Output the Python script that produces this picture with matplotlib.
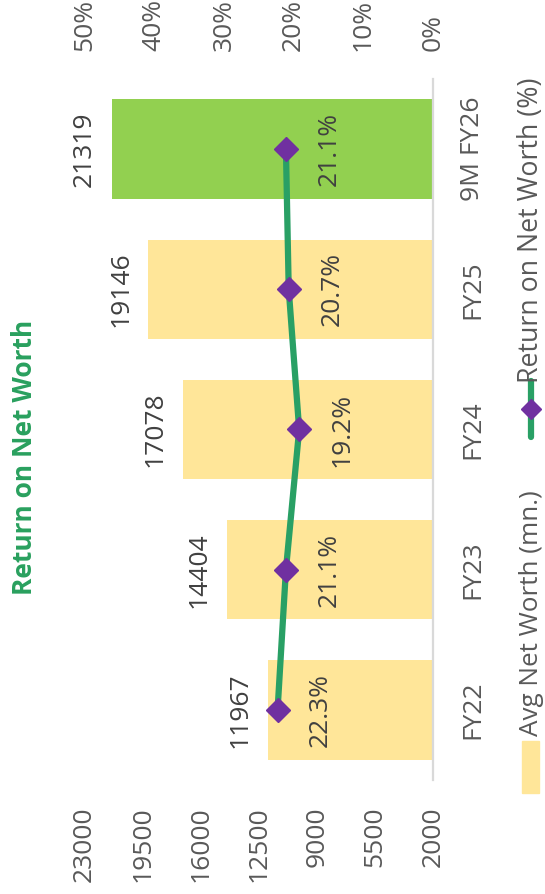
import matplotlib
matplotlib.use("Agg")
import matplotlib.pyplot as plt
from matplotlib.patches import Rectangle
from matplotlib.lines import Line2D

plt.rcParams['font.family'] = ['Open Sans', 'DejaVu Sans']

# chart data (the original is a column + line chart turned 90 degrees)
periods = ["FY22", "FY23", "FY24", "FY25", "9M FY26"]
avg_net_worth = [11967, 14404, 17078, 19146, 21319]
ronw_pct = [22.3, 21.1, 19.2, 20.7, 21.1]
bar_colors = ["#FFE699", "#FFE699", "#FFE699", "#FFE699", "#92D050"]
worth_ticks = [2000, 5500, 9000, 12500, 16000, 19500, 23000]
pct_ticks = [0, 10, 20, 30, 40, 50]

W, H = 545, 894
fig = plt.figure(figsize=(W / 100, H / 100), dpi=100)

# plot area in pixels: x 84.5..433, y 79..780 (from top)
ax = fig.add_axes([84.5 / W, (H - 780) / H, (433 - 84.5) / W, (780 - 79) / H])
ax2 = ax.twiny()

ypos = list(range(len(periods)))

ax.barh(ypos, avg_net_worth, height=0.71, color=bar_colors, zorder=2)
ax.set_xlim(23000, 2000)
ax.set_ylim(-0.5, len(periods) - 0.5)
ax.set_xticks(worth_ticks)
ax.set_xticklabels([str(t) for t in worth_ticks], rotation=90, va="top")
ax.tick_params(axis="x", length=0, pad=19, labelsize=19, labelcolor="#595959")

ax.yaxis.tick_right()
ax.set_yticks(ypos)
ax.set_yticklabels(periods, rotation=90, va="center", ha="left")
ax.tick_params(axis="y", length=0, pad=19.5, labelsize=19, labelcolor="#595959")

for s in ["top", "left", "bottom"]:
    ax.spines[s].set_visible(False)
ax.spines["right"].set_color("#D9D9D9")
ax.spines["right"].set_linewidth(1.6)

for y, v in zip(ypos, avg_net_worth):
    ax.annotate(str(v), xy=(v, y), xytext=(-20, 0), textcoords="offset points",
                rotation=90, ha="center", va="center", fontsize=19, color="#404040")

# return on net worth line on the secondary axis
ax2.plot(ronw_pct, ypos, color="#29A065", lw=4.5, marker="D", ms=12,
         mfc="#7030A0", mec="#7030A0", zorder=3)
ax2.set_xlim(50, 0)
ax2.set_xticks(pct_ticks)
ax2.set_xticklabels([f"{t}%" for t in pct_ticks], rotation=90, va="bottom")
ax2.tick_params(axis="x", length=0, pad=20, labelsize=19, labelcolor="#595959")
for s in ax2.spines.values():
    s.set_visible(False)

for y, p in zip(ypos, ronw_pct):
    ax2.annotate(f"{p}%", xy=(p, y), xytext=(31, 0), textcoords="offset points",
                 rotation=90, ha="center", va="center", fontsize=19, color="#404040")

# title
fig.text(25 / W, 1 - 457.5 / H, "Return on Net Worth", rotation=90, ha="center",
         va="center", fontsize=19, fontweight="bold", color="#29A05E")

# legend built by hand because it is turned as well
fig.patches.append(Rectangle((522 / W, 1 - 793 / H), 17 / W, 52 / H,
                             transform=fig.transFigure, color="#FFE699"))
leg1 = fig.text(531 / W, 1 - 736 / H, "Avg Net Worth (mn.)", rotation=90, ha="center",
                va="bottom", fontsize=19, color="#595959")
fig.lines.append(Line2D([531 / W, 531 / W], [1 - 437 / H, 1 - 381 / H],
                        transform=fig.transFigure, color="#29A065", lw=4.5,
                        solid_capstyle="round"))
fig.lines.append(Line2D([531 / W], [1 - 409 / H], transform=fig.transFigure,
                        marker="D", ms=10, mfc="#7030A0", mec="#7030A0", lw=0))
leg2 = fig.text(531 / W, 1 - 383 / H, "Return on Net Worth (%)", rotation=90, ha="center",
                va="bottom", fontsize=19, color="#595959")

# the legend text in the source is narrower, fit it to the lengths seen there
fig.canvas.draw()
rend = fig.canvas.get_renderer()
for t, target in [(leg1, 246), (leg2, 306)]:
    h = t.get_window_extent(rend).height
    t.set_fontsize(19 * target / h)

fig.savefig("out.png", dpi=100)
